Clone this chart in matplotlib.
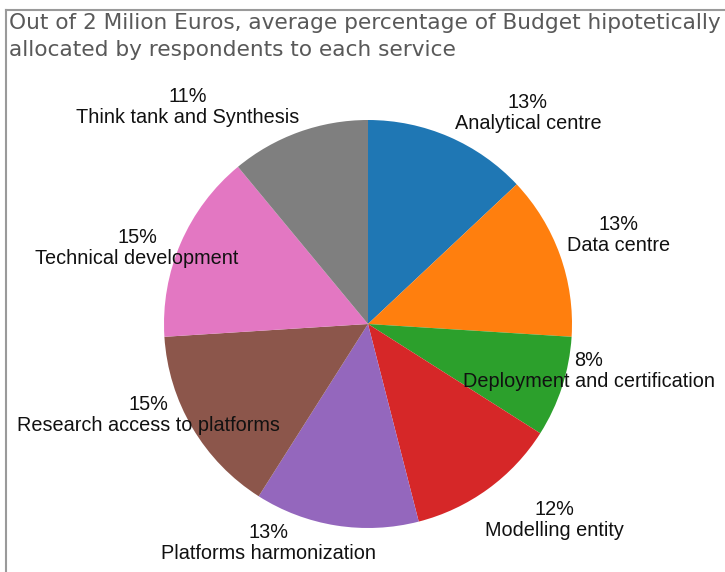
import matplotlib
matplotlib.use("Agg")
import matplotlib.pyplot as plt
from matplotlib.lines import Line2D

W, H = 725, 572

services = [
    "Analytical centre",
    "Data centre",
    "Deployment and certification",
    "Modelling entity",
    "Platforms harmonization",
    "Research access to platforms",
    "Technical development",
    "Think tank and Synthesis",
]
shares = [13, 13, 8, 12, 13, 15, 15, 11]
colors = ["#1f77b4", "#ff7f0e", "#2ca02c", "#d62728",
          "#9467bd", "#8c564b", "#e377c2", "#7f7f7f"]

# label centres in pixel coords (x from left, y from top)
label_xy = [(528, 113), (619, 235), (589, 371), (554, 520),
            (269, 543), (148, 415), (137, 248), (188, 107)]

fig = plt.figure(figsize=(W / 100, H / 100), dpi=100)
ax = fig.add_axes([0, 0, 1, 1])

ax.pie(shares, colors=colors, startangle=90, counterclock=False,
       center=(368, H - 324), radius=204, frame=True)
ax.set_xlim(0, W)
ax.set_ylim(0, H)
ax.set_aspect("equal")
ax.axis("off")

for name, pct, (x, y) in zip(services, shares, label_xy):
    ax.text(x, H - y, f"{pct}%\n{name}", ha="center", va="center",
            fontsize=14.3, family="Liberation Sans", color="#111111",
            linespacing=1.15)

title_kw = dict(ha="left", va="center", fontsize=15.6, color="#595959", family="DejaVu Sans")
fig.text(9 / W, 1 - 23 / H, "Out of 2 Milion Euros, average percentage of Budget hipotetically", **title_kw)
fig.text(9 / W, 1 - 50 / H, "allocated by respondents to each service", **title_kw)

# chart frame (only top and left edges visible)
fig.add_artist(Line2D([6 / W, 6 / W], [0, 1 - 10 / H], color="#9a9a9a", lw=1.5,
                      transform=fig.transFigure))
fig.add_artist(Line2D([6 / W, 1], [1 - 10 / H, 1 - 10 / H], color="#9a9a9a", lw=1.5,
                      transform=fig.transFigure))

fig.savefig("out.png", dpi=100)
